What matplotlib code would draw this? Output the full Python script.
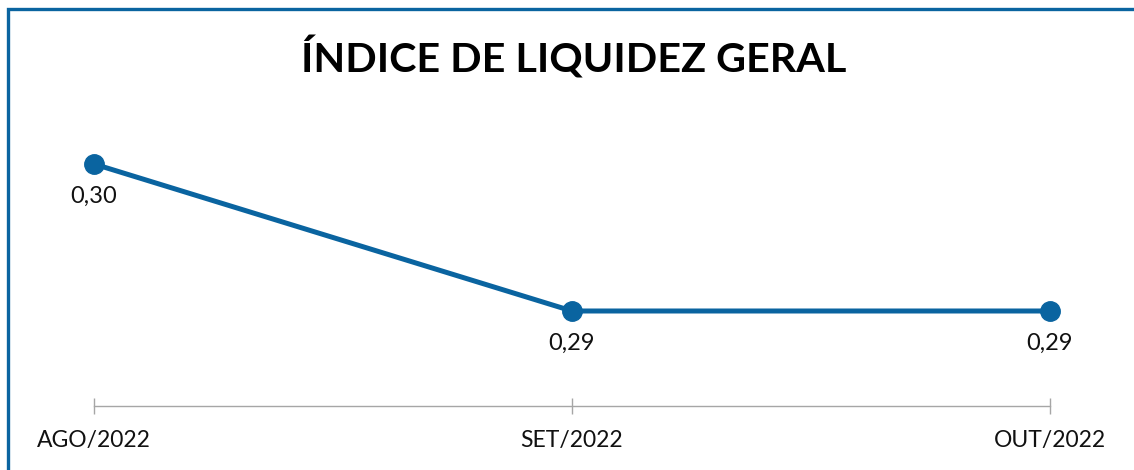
import matplotlib

matplotlib.use("Agg")
import matplotlib.pyplot as plt
from matplotlib.patches import Rectangle

months = ["AGO/2022", "SET/2022", "OUT/2022"]
values = [0.30, 0.29, 0.29]
labels = ["0,30", "0,29", "0,29"]

BLUE = "#0A64A0"
plt.rcParams["font.family"] = ["Lato", "DejaVu Sans"]

fig = plt.figure(figsize=(11.34, 4.70), dpi=100)
ax = fig.add_axes([94 / 1134, 1 - 406 / 470, (1050 - 94) / 1134, (406 - 130) / 470])

x = list(range(len(months)))
ax.plot(x, values, color=BLUE, lw=3.6, marker="o", ms=14, zorder=3, clip_on=False)
for xi, v, lab in zip(x, values, labels):
    ax.annotate(lab, (xi, v), xytext=(0, -23), textcoords="offset points",
                ha="center", va="center", fontsize=17, color="#111111")

ax.set_xlim(0, 2)
ax.set_ylim(0.283537, 0.302313)
ax.set_xticks(x)
ax.set_xticklabels(months, fontsize=16.5, color="#111111")
ax.set_yticks([])
for side in ["top", "right", "left"]:
    ax.spines[side].set_visible(False)
ax.spines["bottom"].set_color("#A6A6A6")
ax.spines["bottom"].set_linewidth(1.0)
ax.tick_params(axis="x", direction="inout", length=12, width=1.0, color="#A6A6A6", pad=11)

fig.text(574 / 1134, 1 - 58 / 470, "ÍNDICE DE LIQUIDEZ GERAL", ha="center", va="center",
         fontsize=29.7, fontweight="bold", color="#000000")

fig.patches.append(Rectangle((7.5 / 1134, -0.1), 1.2, 1 - 9 / 470 + 0.1, fill=False,
                             edgecolor=BLUE, lw=2.4, transform=fig.transFigure))

fig.savefig("out.png", dpi=100, facecolor="white")
